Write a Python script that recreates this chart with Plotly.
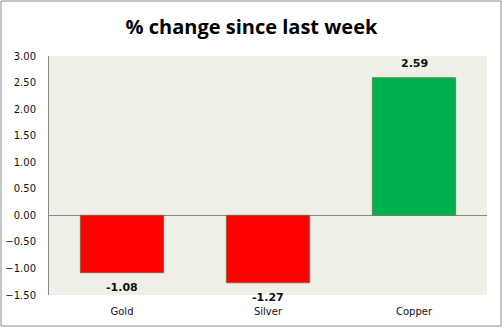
import plotly.graph_objects as go

categories = ["Gold", "Silver", "Copper"]
values = [-1.08, -1.27, 2.59]
labels = ["-1.08", "-1.27", "2.59"]
colors = ["#FF0000", "#FF0000", "#00B050"]
outline = ["#9C5A3C", "#9C5A3C", "#4E8F4E"]
tick_vals = [3.0, 2.5, 2.0, 1.5, 1.0, 0.5, 0.0, -0.5, -1.0, -1.5]

W, H = 503, 329
ml, mr, mt, mb = 49, 16, 56, 34
pw, ph = W - ml - mr, H - mt - mb

fig = go.Figure(go.Bar(
    x=categories, y=values, width=0.57,
    marker=dict(color=colors, line=dict(color=outline, width=1)),
    cliponaxis=False,
))

annotations = []
for c, v, t in zip(categories, values, labels):
    annotations.append(dict(
        x=c, y=v, xref="x", yref="y", text="<b>%s</b>" % t, showarrow=False,
        yanchor="top" if v < 0 else "bottom",
        yshift=-6 if v < 0 else 6,
        font=dict(family="DejaVu Sans", size=11, color="#111111"),
    ))

def px(x):
    return (x - ml) / pw

def py(y):
    return (H - mb - y) / ph

fig.update_layout(
    width=W, height=H,
    margin=dict(l=ml, r=mr, t=mt, b=mb, autoexpand=False),
    paper_bgcolor="white", plot_bgcolor="#EEF0E8",
    showlegend=False,
    title=dict(text="<b>% change since last week</b>", x=0.5, xref="container",
               xanchor="center", y=1 - 27 / H, yanchor="middle",
               font=dict(family="Open Sans", size=20, color="black")),
    annotations=annotations,
    shapes=[dict(type="rect", xref="paper", yref="paper",
                 x0=px(1), x1=px(501), y0=py(326), y1=py(1),
                 line=dict(color="#8C8C8C", width=1), layer="below")],
)
fig.update_yaxes(range=[-1.5, 3.0], tickvals=tick_vals, tickformat=".2f",
                 automargin=False,
                 showgrid=False, zeroline=True, zerolinecolor="#888888", zerolinewidth=1,
                 showline=True, linecolor="#888888", linewidth=1,
                 ticks="", ticklabelstandoff=10,
                 tickfont=dict(family="DejaVu Sans", size=10, color="#111111"))
fig.update_xaxes(showgrid=False, showline=False, ticks="", ticklabelstandoff=9,
                 automargin=False,
                 tickfont=dict(family="DejaVu Sans", size=10, color="#111111"))

fig.write_html("out.html")
